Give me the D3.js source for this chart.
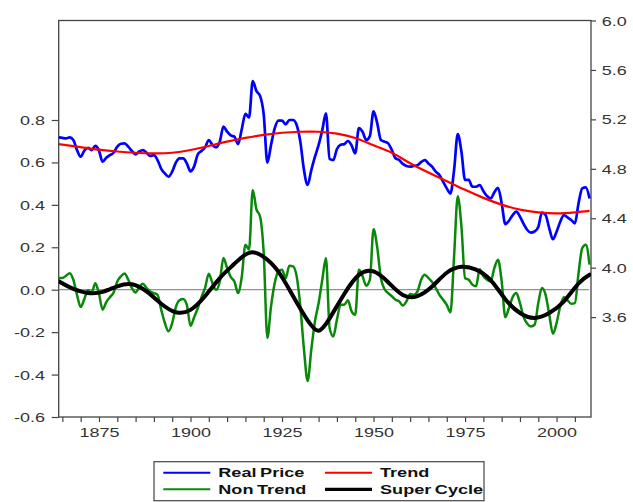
<!DOCTYPE html>
<html>
<head>
<meta charset="utf-8">
<script src="https://cdn.jsdelivr.net/npm/d3@7"></script>
<style>
  html, body { margin: 0; padding: 0; background: #fff; }
  svg { display: block; }
</style>
</head>
<body>
<svg id="chart" width="633" height="502"></svg>
<script>
// ---- data -------------------------------------------------------------
const years = d3.range(1864, 2010);

// log real price (right axis)
const realPrice = [
  5.055, 5.05, 5.046, 5.055, 5.033, 4.952,
  4.898, 4.947, 4.97, 4.952, 4.985, 4.947, 4.857, 4.89, 4.91, 4.93,
  4.98, 5.003, 5.006, 4.98, 4.944, 4.917, 4.94, 4.952, 4.93, 4.904,
  4.91, 4.871, 4.80, 4.763, 4.736, 4.777, 4.85, 4.884, 4.884, 4.844,
  4.78, 4.82, 4.917, 4.944, 4.974, 5.033, 4.993, 4.974, 5.02, 5.141,
  5.10, 5.07, 5.06, 5.0, 5.12, 5.245, 5.215, 5.51, 5.43, 5.39,
  5.24, 4.85, 4.993, 5.127, 5.19, 5.19, 5.16, 5.195, 5.195, 5.154,
  5.02, 4.79, 4.67, 4.79, 4.898, 4.993, 5.114, 5.249, 4.88, 4.87,
  4.96, 4.995, 5.0, 5.025, 4.99, 4.925, 5.13, 5.10, 5.033, 5.065,
  5.265, 5.17, 5.033, 5.02, 5.006, 4.952, 4.885, 4.871, 4.84, 4.823,
  4.817, 4.823, 4.83, 4.855, 4.871, 4.844, 4.817, 4.777, 4.75, 4.696,
  4.642, 4.60, 4.79, 5.08, 4.94, 4.71, 4.71, 4.655, 4.655, 4.669,
  4.62, 4.58, 4.56, 4.61, 4.647, 4.521, 4.352, 4.38, 4.426, 4.453,
  4.413, 4.354, 4.305, 4.283, 4.294, 4.33, 4.445, 4.426, 4.318, 4.23,
  4.291, 4.372, 4.426, 4.407, 4.386, 4.359, 4.521, 4.642, 4.65, 4.56
];

// deviation from trend (left axis)
const nonTrend = [
  0.055, 0.055, 0.066, 0.078, 0.047, -0.024,
  -0.082, -0.044, -0.003, -0.013, 0.031, -0.019, -0.094, -0.058, -0.035, -0.013,
  0.039, 0.063, 0.077, 0.047, 0.008, -0.013, 0.013, 0.028, 0.008, -0.008,
  -0.016, -0.024, -0.094, -0.157, -0.196, -0.157, -0.082, -0.05, -0.044, -0.071,
  -0.17, -0.13, -0.086, -0.035, 0.01, 0.075, 0.031, 0.0, 0.039, 0.149,
  0.102, 0.06, 0.039, -0.016, 0.06, 0.212, 0.19, 0.47, 0.38, 0.345,
  0.173, -0.227, -0.078, 0.031, 0.086, 0.094, 0.055, 0.113, 0.11, 0.063,
  -0.078, -0.282, -0.43, -0.282, -0.149, -0.063, 0.047, 0.149, -0.18, -0.22,
  -0.141, -0.071, -0.071, -0.05, -0.102, -0.118, 0.094, 0.063, 0.019, 0.047,
  0.285, 0.20, 0.055, 0.003, -0.016, -0.031, -0.047, -0.055, -0.075, -0.055,
  -0.02, -0.024, -0.008, 0.047, 0.071, 0.055, 0.036, 0.008, -0.024, -0.047,
  -0.071, -0.107, 0.157, 0.44, 0.30, 0.055, 0.047, 0.024, 0.016, 0.097,
  0.063, 0.047, 0.039, 0.102, 0.141, 0.04, -0.13, -0.085, -0.035, -0.016,
  -0.063, -0.129, -0.16, -0.173, -0.165, -0.063, 0.008, -0.024, -0.118, -0.207,
  -0.157, -0.078, -0.035, -0.05, -0.066, -0.063, 0.078, 0.196, 0.212, 0.118
];

// long-run trend (right axis)
const trendYears  = [1864, 1870, 1875, 1880, 1885, 1890, 1895, 1900, 1905, 1910,
                     1915, 1920, 1925, 1930, 1935, 1940, 1945, 1950, 1955, 1960,
                     1965, 1970, 1975, 1980, 1985, 1990, 1995, 2000, 2005, 2009];
const trendValues = [5.00, 4.975, 4.955, 4.94, 4.93, 4.925, 4.93, 4.952, 4.985, 5.02,
                     5.05, 5.075, 5.092, 5.10, 5.10, 5.085, 5.05, 4.99, 4.93, 4.845,
                     4.77, 4.70, 4.63, 4.565, 4.51, 4.47, 4.448, 4.44, 4.448, 4.46];

// super cycle component (left axis)
const cycleYears  = [1864, 1868, 1872, 1876, 1880, 1884, 1888, 1892, 1896, 1900,
                     1904, 1908, 1912, 1916, 1920, 1924, 1928, 1932, 1935, 1938,
                     1942, 1946, 1950, 1954, 1958, 1962, 1966, 1970, 1974, 1978,
                     1982, 1986, 1990, 1994, 1998, 2002, 2006, 2009];
const cycleValues = [0.04, 0.004, -0.015, -0.01, 0.016, 0.026, -0.008, -0.066, -0.106, -0.095,
                     -0.03, 0.055, 0.122, 0.174, 0.155, 0.085, -0.03, -0.145, -0.193, -0.135,
                     -0.02, 0.07, 0.086, 0.035, -0.025, -0.03, 0.015, 0.08, 0.108, 0.095,
                     0.045, -0.045, -0.11, -0.133, -0.11, -0.055, 0.03, 0.071];

const leftTicks   = [-0.6, -0.4, -0.2, 0.0, 0.2, 0.4, 0.6, 0.8];
const rightTicks  = [3.6, 4.0, 4.4, 4.8, 5.2, 5.6, 6.0];
const yearLabels  = [1875, 1900, 1925, 1950, 1975, 2000];
const yearTicks   = d3.range(1865, 2010, 5);
const legendLabels = ["Real Price", "Trend", "Non Trend", "Super Cycle"];

// ---- layout -----------------------------------------------------------
const svg = d3.select("#chart");
const L = 58.7, R = 591, T = 20.5, B = 417;
const SX = 1.44;               // horizontal stretch of the lettering
const FONT = "Arial, 'Liberation Sans', sans-serif";
const AXIS = "#444";
const TEXT = "#333";

const x  = d3.scaleLinear().domain([1864, 2009.4]).range([L, R]);
const yL = d3.scaleLinear().domain([-0.6, 1.269]).range([B, T]);
const yR = d3.scaleLinear().domain([2.792, 6.0]).range([B, T]);

svg.append("defs").append("clipPath").attr("id", "plot")
  .append("rect").attr("x", L).attr("y", T).attr("width", R - L).attr("height", B - T);

// ---- axes -------------------------------------------------------------
function styleAxis(g) {
  g.select(".domain").remove();
  g.selectAll(".tick line").attr("stroke", AXIS).attr("stroke-width", 1.2);
  g.selectAll(".tick text")
    .attr("fill", TEXT)
    .style("font-family", FONT)
    .style("font-size", "12.5px");
}

const gLeft = svg.append("g").attr("transform", `translate(${L},0)`)
  .call(d3.axisLeft(yL).tickValues(leftTicks).tickSize(7).tickFormat(d => d.toFixed(1)))
  .call(styleAxis);
gLeft.selectAll(".tick text")
  .attr("x", -13.7 / SX).attr("dy", "0.36em")
  .attr("transform", `scale(${SX},1)`);

const gRight = svg.append("g").attr("transform", `translate(${R},0)`)
  .call(d3.axisRight(yR).tickValues(rightTicks).tickSize(5).tickFormat(d => d.toFixed(1)))
  .call(styleAxis);
gRight.selectAll(".tick text")
  .attr("x", 10.7 / SX).attr("dy", "0.36em")
  .attr("transform", `scale(${SX},1)`);

const gBottom = svg.append("g").attr("transform", `translate(0,${B})`)
  .call(d3.axisBottom(x).tickValues(yearTicks).tickSize(5)
        .tickFormat(d => yearLabels.includes(d) ? String(d) : ""))
  .call(styleAxis);
gBottom.selectAll(".tick text")
  .attr("y", 20.3).attr("dy", 0)
  .attr("transform", `scale(${SX},1)`);

// plot frame
svg.append("rect")
  .attr("x", L).attr("y", T).attr("width", R - L).attr("height", B - T)
  .attr("fill", "none").attr("stroke", AXIS).attr("stroke-width", 1.3);

// zero reference line
svg.append("line")
  .attr("x1", L).attr("x2", R - 2).attr("y1", yL(0)).attr("y2", yL(0))
  .attr("stroke", "#777").attr("stroke-width", 1);

// ---- series -----------------------------------------------------------
const plot = svg.append("g").attr("clip-path", "url(#plot)");

const priceLine = d3.line().x(d => x(d[0])).y(d => yR(d[1])).curve(d3.curveMonotoneX);
const devLine   = d3.line().x(d => x(d[0])).y(d => yL(d[1])).curve(d3.curveMonotoneX);
const trendLine = d3.line().x(d => x(d[0])).y(d => yR(d[1])).curve(d3.curveNatural);
const cycleLine = d3.line().x(d => x(d[0])).y(d => yL(d[1])).curve(d3.curveNatural);

plot.append("path")
  .datum(d3.zip(years, realPrice))
  .attr("d", priceLine)
  .attr("fill", "none").attr("stroke", "#0000ff").attr("stroke-width", 2.7)
  .attr("stroke-linejoin", "round");

plot.append("path")
  .datum(d3.zip(trendYears, trendValues))
  .attr("d", trendLine)
  .attr("fill", "none").attr("stroke", "#ff0000").attr("stroke-width", 2.2);

plot.append("path")
  .datum(d3.zip(years, nonTrend))
  .attr("d", devLine)
  .attr("fill", "none").attr("stroke", "#0a880a").attr("stroke-width", 2.5)
  .attr("stroke-linejoin", "round");

plot.append("path")
  .datum(d3.zip(cycleYears, cycleValues))
  .attr("d", cycleLine)
  .attr("fill", "none").attr("stroke", "#000").attr("stroke-width", 4)
  .attr("stroke-linecap", "round");

// ---- legend -----------------------------------------------------------
const legendStyle = [
  { color: "#0000ff", width: 2,   col: 0, row: 0 },
  { color: "#ff0000", width: 2,   col: 1, row: 0 },
  { color: "#0a880a", width: 2,   col: 0, row: 1 },
  { color: "#000000", width: 3.2, col: 1, row: 1 }
];
const legend = svg.append("g");
legend.append("rect")
  .attr("x", 154).attr("y", 461.7).attr("width", 330).attr("height", 39)
  .attr("fill", "#fff").attr("stroke", AXIS).attr("stroke-width", 1.2);

const colX  = [163.3, 325];
const rowY  = [472.7, 489.3];
legendLabels.forEach((label, i) => {
  const s = legendStyle[i];
  const x0 = colX[s.col], yc = rowY[s.row];
  legend.append("line")
    .attr("x1", x0).attr("x2", x0 + 47).attr("y1", yc).attr("y2", yc)
    .attr("stroke", s.color).attr("stroke-width", s.width);
  legend.append("text")
    .attr("transform", `translate(${x0 + 55},${yc + 4.6}) scale(1.45,1)`)
    .attr("fill", "#111")
    .style("font-family", FONT)
    .style("font-size", "12.5px")
    .style("font-weight", "bold")
    .style("word-spacing", "-1px")
    .text(label);
});
</script>
</body>
</html>
